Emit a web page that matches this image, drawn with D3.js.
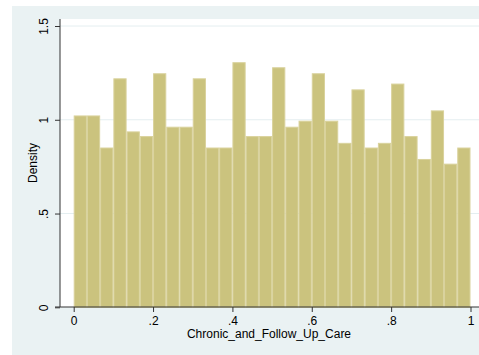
<!DOCTYPE html>
<html>
<head>
<meta charset="utf-8">
<script src="https://cdn.jsdelivr.net/npm/d3@7"></script>
<style>
  body { margin: 0; background: #ffffff; }
  svg text { font-family: "Liberation Sans", Arial, sans-serif; fill: #000; }
</style>
</head>
<body>
<script>
//histogram of Chronic_and_Follow_Up_Care, 30 bins on [0,1]
var binStart = 0, binEnd = 1, binCount = 30;
var densities = [1.023, 1.023, 0.852, 1.221, 0.938, 0.913, 1.248, 0.963, 0.963, 1.221,
                 0.852, 0.852, 1.307, 0.913, 0.913, 1.280, 0.963, 0.995, 1.248, 0.995,
                 0.877, 1.162, 0.852, 0.877, 1.193, 0.913, 0.791, 1.050, 0.766, 0.852];
var xTicks = [0, 0.2, 0.4, 0.6, 0.8, 1];
var xTickLabels = ["0", ".2", ".4", ".6", ".8", "1"];
var yTicks = [0, 0.5, 1, 1.5];
var yTickLabels = ["0", ".5", "1", "1.5"];
var xTitle = "Chronic_and_Follow_Up_Care";
var yTitle = "Density";

var width = 479, height = 355;

var svg = d3.select("body").append("svg")
    .attr("width", width)
    .attr("height", height);

//outer graph region
svg.append("rect")
    .attr("x", 12).attr("y", 6)
    .attr("width", width - 12).attr("height", height - 6)
    .attr("fill", "#eaf2f3");

//plot region
var plotLeft = 60, plotTop = 19, plotRight = 479, plotBottom = 307;
svg.append("rect")
    .attr("x", plotLeft).attr("y", plotTop)
    .attr("width", plotRight - plotLeft).attr("height", plotBottom - plotTop)
    .attr("fill", "#ffffff");

var x = d3.scaleLinear().domain([0, 1]).range([73.7, 470.5]);
var y = d3.scaleLinear().domain([0, 1.5]).range([307.3, 26]);

//grid lines
svg.selectAll(".grid")
    .data(yTicks.slice(1))
    .enter().append("line")
    .attr("class", "grid")
    .attr("x1", plotLeft).attr("x2", plotRight)
    .attr("y1", function(d){ return y(d); })
    .attr("y2", function(d){ return y(d); })
    .attr("stroke", "#e4eef0")
    .attr("stroke-width", 1);

//bars
var binWidth = (binEnd - binStart) / binCount;
svg.selectAll(".bar")
    .data(densities)
    .enter().append("rect")
    .attr("class", "bar")
    .attr("x", function(d, i){ return x(binStart + i * binWidth) + 0.5; })
    .attr("width", function(d, i){ return x(binStart + (i + 1) * binWidth) - x(binStart + i * binWidth) - 1; })
    .attr("y", function(d){ return y(d) + 0.5; })
    .attr("height", function(d){ return y(0) - y(d) - 0.5; })
    .attr("fill", "#cbc37e")
    .attr("stroke", "#d9d29c")
    .attr("stroke-width", 1);

//y axis
var yAxis = d3.axisLeft(y)
    .tickValues(yTicks)
    .tickSize(5)
    .tickFormat(function(d, i){ return yTickLabels[i]; });
var yg = svg.append("g")
    .attr("transform", "translate(" + plotLeft + ",0)")
    .call(yAxis);
yg.select(".domain").remove();
yg.selectAll(".tick line").attr("stroke", "#333");
yg.selectAll(".tick text")
    .attr("font-size", 12)
    .attr("x", 0).attr("dy", 0)
    .attr("text-anchor", "middle")
    .attr("transform", "translate(-12,0) rotate(-90)")
    .attr("y", 0);
svg.append("line")
    .attr("x1", plotLeft).attr("x2", plotLeft)
    .attr("y1", plotTop).attr("y2", plotBottom)
    .attr("stroke", "#333").attr("stroke-width", 1);

//x axis
var xAxis = d3.axisBottom(x)
    .tickValues(xTicks)
    .tickSize(5)
    .tickFormat(function(d, i){ return xTickLabels[i]; });
var xg = svg.append("g")
    .attr("transform", "translate(0," + plotBottom + ")")
    .call(xAxis);
xg.select(".domain").remove();
xg.selectAll(".tick line").attr("stroke", "#333");
xg.selectAll(".tick text").attr("font-size", 12).attr("y", 9);
svg.append("line")
    .attr("x1", 55).attr("x2", width)
    .attr("y1", plotBottom).attr("y2", plotBottom)
    .attr("stroke", "#333").attr("stroke-width", 1);

//axis titles
svg.append("text")
    .attr("x", 269)
    .attr("y", 338)
    .attr("text-anchor", "middle")
    .attr("font-size", 12)
    .text(xTitle);

svg.append("text")
    .attr("transform", "translate(37,163) rotate(-90)")
    .attr("text-anchor", "middle")
    .attr("font-size", 12)
    .text(yTitle);
</script>
</body>
</html>
